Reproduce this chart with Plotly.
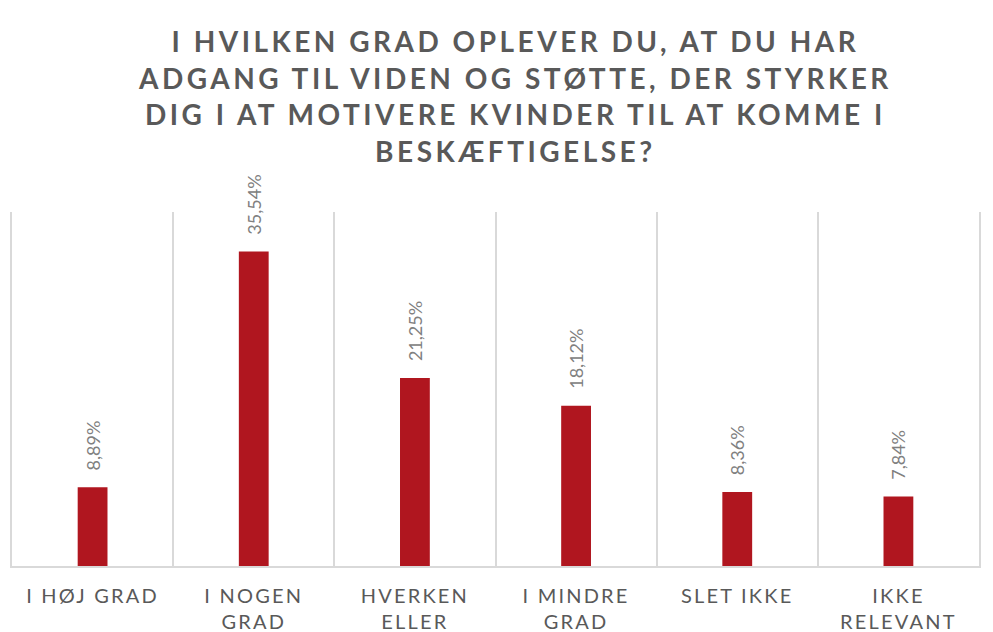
import plotly.graph_objects as go

categories = ["I HØJ GRAD", "I NOGEN<br>GRAD", "HVERKEN<br>ELLER", "I MINDRE<br>GRAD", "SLET IKKE", "IKKE<br>RELEVANT"]
values = [8.89, 35.54, 21.25, 18.12, 8.36, 7.84]
title_text = ("I HVILKEN GRAD OPLEVER DU, AT DU HAR<br>ADGANG TIL VIDEN OG STØTTE, DER STYRKER<br>"
              "DIG I AT MOTIVERE KVINDER TIL AT KOMME I<br>BESKÆFTIGELSE?")

fig = go.Figure(go.Bar(
    x=categories, y=values,
    marker=dict(color="#B0161F", line=dict(width=0)),
    texttemplate="\u00a0\u00a0\u00a0%{y:.2f}%",
    textposition="outside",
    textangle=-90,
    constraintext="none",
    textfont=dict(family="Lato", size=18, color="#808080"),
    cliponaxis=False,
    hoverinfo="skip",
))

fig.update_layout(
    width=993, height=632,
    margin=dict(l=12, r=14, t=212, b=66, autoexpand=False),
    paper_bgcolor="white", plot_bgcolor="white",
    separators=",.",
    bargap=0.815,
    showlegend=False,
    title=dict(text=title_text, x=0.519, xanchor="center", y=0.917, yanchor="top",
               font=dict(family="Lato", size=28, color="#595959", weight="bold")),
    font=dict(family="Lato"),
)
fig.update_xaxes(
    type="category", tickson="boundaries", showgrid=True, gridcolor="#D9D9D9", gridwidth=1.5,
    showline=True, linecolor="#D9D9D9", linewidth=1.5, ticks="", ticklabelstandoff=11,
    automargin=False,
    tickfont=dict(family="Lato", size=20, color="#595959"),
)
fig.update_yaxes(range=[0, 40], showgrid=False, showticklabels=False, zeroline=False,
                 showline=True, mirror=True, linecolor="#D9D9D9", linewidth=1.5, automargin=False)

post = """
document.body.style.margin='0';
document.body.style.overflow='hidden';
function ls(){
 document.querySelectorAll('.gtitle').forEach(function(e){e.style.letterSpacing='3.5px';});
 document.querySelectorAll('.xtick text').forEach(function(e){e.style.letterSpacing='2.2px';});
}
ls();
var gd=document.getElementsByClassName('plotly-graph-div')[0];
gd.on('plotly_afterplot', ls);
"""
fig.write_html("out.html", post_script=post, config={"displayModeBar": False})
